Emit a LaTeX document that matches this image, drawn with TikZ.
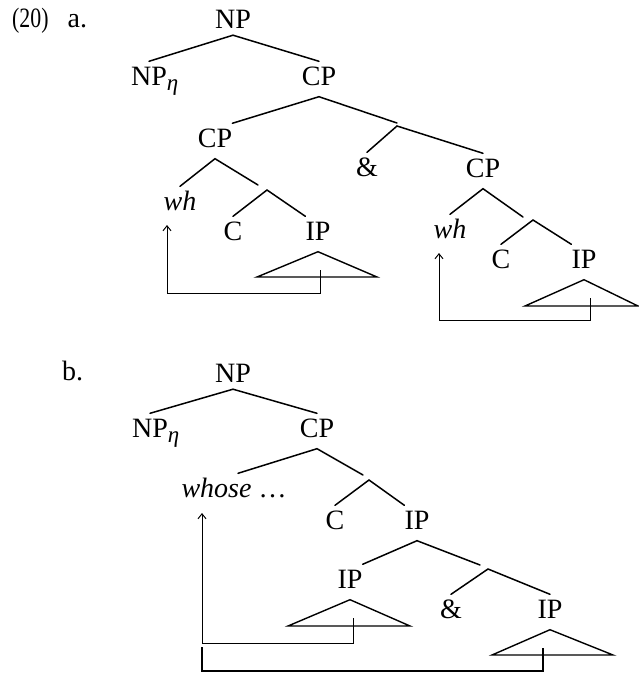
\documentclass[tikz,border=0pt]{standalone}
\usepackage{fontspec}
\usepackage{graphicx}
\setmainfont{Liberation Serif}
\usetikzlibrary{arrows.meta}
\begin{document}
\begin{tikzpicture}[x=1pt,y=-1pt,
  every node/.style={font=\fontsize{28}{32}\selectfont},
  cat/.style={anchor=base, inner sep=0pt, text height=23.5pt, text depth=11.5pt},
  root/.style={cat, text depth=7pt},
  exlab/.style={anchor=base west, inner sep=0pt},
  branch/.style={line width=1.5pt, line cap=round},
  roof/.style={line width=1.4pt, line join=miter},
  move/.style={line width=1pt},
  mvarrow/.style={move, -{Straight Barb[length=5pt,width=8pt,line width=1pt]}},
]
\newcommand\subeta{\rlap{\raisebox{-5pt}{\fontsize{23}{23}\selectfont\itshape η}}}
\useasboundingbox (0,0) rectangle (639,673);

% ---------- (20a): coordinated CPs ----------
\node[exlab] (a_lab) at (12,27) {\scalebox{0.78}[1]{(20)}\hspace{19pt}a.};
\node[root] (a_np)  at (233,28)  {NP};
\node[cat]  (a_npe) at (149,85)  {NP\subeta};
\node[cat]  (a_cp1) at (319,85)  {CP};
\node[cat]  (a_cp2) at (215,147) {CP};
\node[cat]  (a_amp) at (367,176) {\&};
\node[cat]  (a_cp3) at (483,177) {CP};
\node[cat]  (a_wh1) at (180,210) {\itshape wh};
\node[cat]  (a_c1)  at (233,240) {C};
\node[cat]  (a_ip1) at (318,240) {IP};
\node[cat]  (a_wh2) at (450,238) {\itshape wh};
\node[cat]  (a_c2)  at (501,268) {C};
\node[cat]  (a_ip2) at (584,268) {IP};

\coordinate (a_k1in) at (397,123); \coordinate (a_k1) at (397,126);
\coordinate (a_k2in) at (258,185); \coordinate (a_k2) at (267,190);
\coordinate (a_k3in) at (523,217); \coordinate (a_k3) at (533,220);

\draw[branch] (a_npe.north) -- (a_np.south) -- (a_cp1.north);
\draw[branch] (a_cp2.north east) -- (a_cp1.south) -- (a_k1in);
\draw[branch] (a_amp.north) -- (a_k1) -- (a_cp3.north);
\draw[branch] (a_wh1.north) -- (a_cp2.south) -- (a_k2in);
\draw[branch] (a_c1.north) -- (a_k2) -- (a_ip1.north west);
\draw[branch] (a_wh2.north) -- (a_cp3.south) -- (a_k3in);
\draw[branch] (a_c2.north) -- (a_k3) -- (a_ip2.north west);

% roofs
\coordinate (a_r1l) at (257,277); \coordinate (a_r1r) at (377,277);
\draw[roof] (a_ip1.south) -- (a_r1l) -- (a_r1r) -- cycle;
\coordinate (a_r2l) at (525,306); \coordinate (a_r2r) at (638,306);
\draw[roof] (a_ip2.south) -- (a_r2l) -- (a_r2r) -- cycle;

% movement
\coordinate (a_t1) at (320,270); \coordinate (a_g1) at (167,225);
\draw[mvarrow] (a_t1) -- ++(0,23) -| (a_g1);
\coordinate (a_t2) at (590,298); \coordinate (a_g2) at (439,253);
\draw[mvarrow] (a_t2) -- ++(0,22) -| (a_g2);

% ---------- (20b): coordinated IPs ----------
\node[exlab] (b_lab) at (62,380) {b.};
\node[root] (b_np)  at (233,382) {NP};
\node[cat]  (b_npe) at (150,437) {NP\subeta};
\node[cat]  (b_cp1) at (317,437) {CP};
\node[cat]  (b_wh)  at (234,497) {\textit{whose} …};
\node[cat]  (b_c)   at (335,529) {C};
\node[cat]  (b_ip1) at (417,529) {IP};
\node[cat]  (b_ip2) at (350,588) {IP};
\node[cat]  (b_amp) at (451,618) {\&};
\node[cat]  (b_ip3) at (550,618) {IP};

\coordinate (b_k1in) at (363,475); \coordinate (b_k1) at (369,480);
\coordinate (b_k2in) at (480,565); \coordinate (b_k2) at (488,569);

\draw[branch] (b_npe.north) -- (b_np.south) -- (b_cp1.north);
\draw[branch] ([xshift=4pt]b_wh.north) -- (b_cp1.south) -- (b_k1in);
\draw[branch] (b_c.north) -- (b_k1) -- (b_ip1.north west);
\draw[branch] (b_ip2.north east) -- (b_ip1.south) -- (b_k2in);
\draw[branch] (b_amp.north) -- (b_k2) -- (b_ip3.north);

\coordinate (b_r1l) at (288,626); \coordinate (b_r1r) at (410,626);
\draw[roof] (b_ip2.south) -- (b_r1l) -- (b_r1r) -- cycle;
\coordinate (b_r2l) at (492,655); \coordinate (b_r2r) at (613,655);
\draw[roof] (b_ip3.south) -- (b_r2l) -- (b_r2r) -- cycle;

\coordinate (b_t1) at (353,618); \coordinate (b_g1) at (202,513);
\draw[mvarrow] (b_t1) -- ++(0,25) -| (b_g1);
\coordinate (b_t2) at (543,648); \coordinate (b_j2) at (202,647);
\draw[move, line width=1.6pt] (b_j2) -- ++(0,24) -| (b_t2);
\end{tikzpicture}
\end{document}
